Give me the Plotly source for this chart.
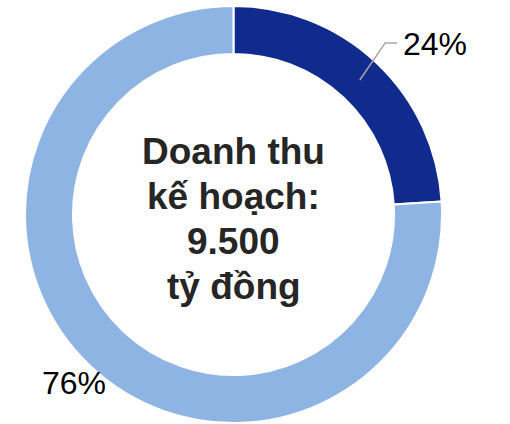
import math
import plotly.graph_objects as go

labels = ["Đã thực hiện", "Còn lại"]
values = [24, 76]
colors = ["#102A8E", "#8EB4E3"]
center_lines = ["Doanh thu", "kế hoạch:", "9.500", "tỷ đồng"]

W, H = 510, 424
cx, cy, R = 233.5, 214.5, 208.5
hole = 0.77
FONT = "Arial, Liberation Sans, sans-serif"


def to_paper(px, py):
    return px / W, 1 - py / H


fig = go.Figure(go.Pie(
    labels=labels, values=values, hole=hole, sort=False,
    direction="clockwise", rotation=0,
    marker=dict(colors=colors, line=dict(color="white", width=2)),
    textinfo="none", hoverinfo="label+percent", showlegend=False,
    domain=dict(x=[(cx - R) / W, (cx + R) / W], y=[1 - (cy + R) / H, 1 - (cy - R) / H]),
))

total = sum(values)
cum = 0
annotations = []
shapes = []
for i, v in enumerate(values):
    mid = (cum + v / 2) / total * 2 * math.pi
    cum += v
    pct = f"{round(v / total * 100)}%"
    s, c = math.sin(mid), math.cos(mid)
    if s > 0 and c > 0:
        r0 = R * (1 + hole) / 2
        p0 = (cx + r0 * s, cy - r0 * c)
        ang1 = mid - 0.03
        r1 = R + 20.5
        p1 = (cx + r1 * math.sin(ang1), cy - r1 * math.cos(ang1))
        p2 = (p1[0] + 12, p1[1])
        a = to_paper(*p0); b = to_paper(*p1); d = to_paper(*p2)
        shapes.append(dict(type="path", xref="paper", yref="paper",
                           path=f"M {a[0]},{a[1]} L {b[0]},{b[1]} L {d[0]},{d[1]}",
                           line=dict(color="#A6A6A6", width=1.5)))
        tx, ty = to_paper(p2[0] + 4, p2[1] + 1)
        annotations.append(dict(x=tx, y=ty, xref="paper", yref="paper", text=pct,
                                showarrow=False, xanchor="left", yanchor="middle",
                                font=dict(size=32, color="#000000", family=FONT)))
    else:
        r1 = R + 24
        tx, ty = to_paper(cx + r1 * s, cy - r1 * c - 1)
        annotations.append(dict(x=tx, y=ty, xref="paper", yref="paper", text=pct,
                                showarrow=False, xanchor="center", yanchor="middle",
                                font=dict(size=32, color="#000000", family=FONT)))

line_gap = 44.7
y_first = 152
for k, ln in enumerate(center_lines):
    ctx, cty = to_paper(cx, y_first + k * line_gap)
    annotations.append(dict(x=ctx, y=cty, xref="paper", yref="paper", text=f"<b>{ln}</b>",
                            showarrow=False, xanchor="center", yanchor="middle",
                            font=dict(size=37, color="#262626", family=FONT)))

fig.update_layout(width=W, height=H, margin=dict(l=0, r=0, t=0, b=0),
                  paper_bgcolor="white", plot_bgcolor="white",
                  annotations=annotations, shapes=shapes)
fig.write_html("out.html", config={"displayModeBar": False},
               post_script="document.body.style.margin='0';document.body.style.overflow='hidden';")
